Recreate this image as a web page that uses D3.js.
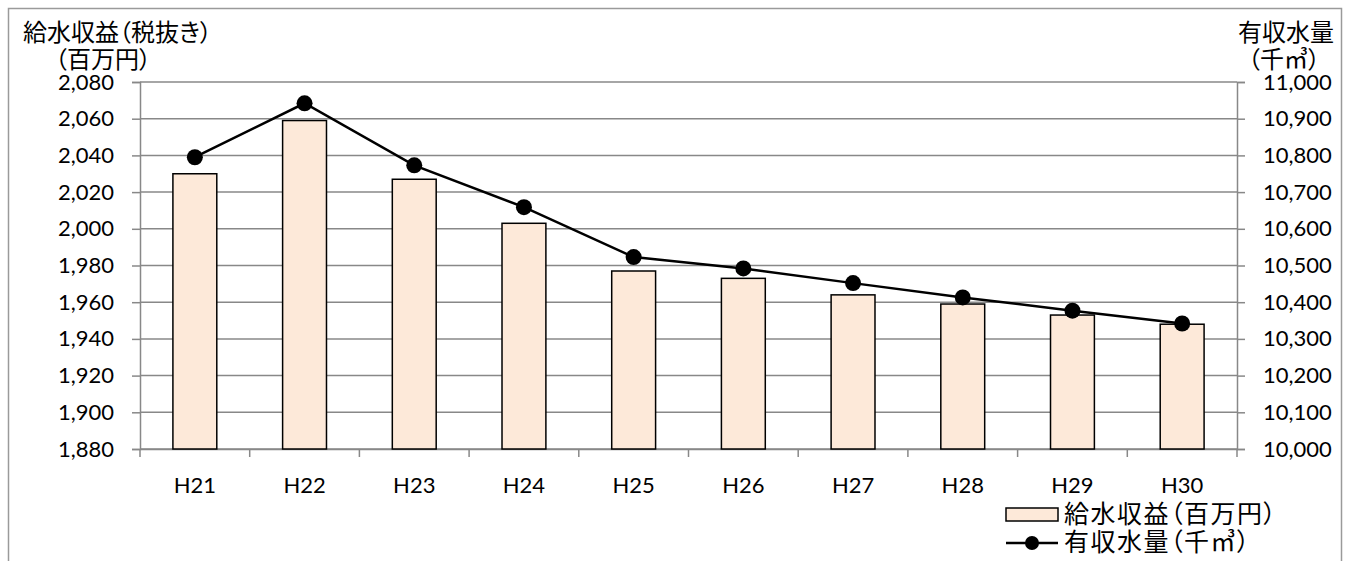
<!DOCTYPE html>
<html><head><meta charset="utf-8">
<script src="https://cdn.jsdelivr.net/npm/d3@7"></script>
<style>
html,body{margin:0;padding:0;background:#fff;overflow:hidden;}
svg{display:block;}
.jp{font-family:"Noto Sans CJK JP",sans-serif;font-feature-settings:"palt";}
.num{font-family:Lato,"Open Sans",sans-serif;}
</style></head>
<body>
<svg id="c" width="1346" height="561"></svg>
<script>
const categories = ["H21","H22","H23","H24","H25","H26","H27","H28","H29","H30"];
const revenue = [2030, 2059, 2027, 2003, 1977, 1973, 1964, 1959, 1953, 1948];
const volume = [10795, 10942, 10773, 10659, 10523, 10492, 10452, 10413, 10377, 10342];
const leftTicks = [1880,1900,1920,1940,1960,1980,2000,2020,2040,2060,2080];
const rightTicks = [10000,10100,10200,10300,10400,10500,10600,10700,10800,10900,11000];
const leftTitle = ["給水収益（税抜き）","（百万円）"];
const rightTitle = ["有収水量","（千㎥）"];
const legendLabels = ["給水収益（百万円）","有収水量（千㎥）"];

const svg = d3.select("#c");
const L = 140, R = 1237, T = 82, B = 449;
const grid = "#888888";

svg.append("rect").attr("x",8.5).attr("y",8.5).attr("width",1333).attr("height",600)
  .attr("fill","none").attr("stroke","#9a9a9a").attr("stroke-width",1.5);

const x = d3.scaleBand().domain(categories).range([L,R]).paddingInner(0.6).paddingOuter(0.3);
const xc = d3.scaleBand().domain(categories).range([L,R]);
const yL = d3.scaleLinear().domain([1880,2080]).range([B,T]);
const yR = d3.scaleLinear().domain([10000,11000]).range([B,T]);

// gridlines
svg.append("g").selectAll("line").data(leftTicks).join("line")
  .attr("x1",L).attr("x2",R).attr("y1",d=>yL(d)).attr("y2",d=>yL(d))
  .attr("stroke",grid).attr("stroke-width",1.5);

// left axis
const gl = svg.append("g").attr("transform",`translate(${L},0)`)
  .call(d3.axisLeft(yL).tickValues(leftTicks).tickSize(8).tickPadding(18).tickFormat(d3.format(",")));
gl.select(".domain").attr("stroke",grid).attr("stroke-width",1.5);
gl.selectAll(".tick line").attr("stroke",grid).attr("stroke-width",1.5);
gl.selectAll(".tick text").attr("class","num").attr("font-size",22).attr("fill","#000");

// right axis
const gr = svg.append("g").attr("transform",`translate(${R},0)`)
  .call(d3.axisRight(yR).tickValues(rightTicks).tickSize(8).tickPadding(18).tickFormat(d3.format(",")));
gr.select(".domain").attr("stroke",grid).attr("stroke-width",1.5);
gr.selectAll(".tick line").attr("stroke",grid).attr("stroke-width",1.5);
gr.selectAll(".tick text").attr("class","num").attr("font-size",22).attr("fill","#000");

// bottom axis
const gb = svg.append("g").attr("transform",`translate(0,${B})`)
  .call(d3.axisBottom(xc).tickSize(0).tickPadding(28));
gb.select(".domain").attr("stroke",grid).attr("stroke-width",1.5);
gb.selectAll(".tick text").attr("class","num").attr("font-size",22).attr("fill","#000");
const bounds = categories.map(c=>xc(c)).concat([xc(categories[categories.length-1])+xc.bandwidth()]);
svg.append("g").selectAll("line").data(bounds).join("line")
  .attr("x1",d=>d).attr("x2",d=>d).attr("y1",B).attr("y2",B+8)
  .attr("stroke",grid).attr("stroke-width",1.5);

// bars
svg.append("g").selectAll("rect").data(revenue).join("rect")
  .attr("x",(d,i)=>x(categories[i])).attr("width",x.bandwidth())
  .attr("y",d=>yL(d)).attr("height",d=>yL(1880)-yL(d))
  .attr("fill","#FDE9D9").attr("stroke","#000").attr("stroke-width",1.5);

// line
const cx = i => xc(categories[i]) + xc.bandwidth()/2;
svg.append("path").datum(volume)
  .attr("d", d3.line().x((d,i)=>cx(i)).y(d=>yR(d)))
  .attr("fill","none").attr("stroke","#000").attr("stroke-width",2.5);
svg.append("g").selectAll("circle").data(volume).join("circle")
  .attr("cx",(d,i)=>cx(i)).attr("cy",d=>yR(d)).attr("r",8).attr("fill","#000");

// titles
svg.append("text").attr("class","jp").attr("x",23).attr("y",41).attr("font-size",24).text(leftTitle[0]);
svg.append("text").attr("class","jp").attr("x",55).attr("y",68).attr("font-size",24).text(leftTitle[1]);
svg.append("text").attr("class","jp").attr("x",1334).attr("y",41).attr("font-size",24).attr("text-anchor","end").text(rightTitle[0]);
svg.append("text").attr("class","jp").attr("x",1320).attr("y",68).attr("font-size",24).attr("text-anchor","end").text(rightTitle[1]);

// legend
svg.append("rect").attr("x",1006).attr("y",508).attr("width",52).attr("height",13)
  .attr("fill","#FDE9D9").attr("stroke","#000").attr("stroke-width",1.5);
svg.append("line").attr("x1",1006).attr("x2",1058).attr("y1",543).attr("y2",543)
  .attr("stroke","#000").attr("stroke-width",2.5);
svg.append("circle").attr("cx",1032).attr("cy",543).attr("r",7).attr("fill","#000");
svg.append("text").attr("class","jp").attr("x",1064).attr("y",523).attr("font-size",25).attr("letter-spacing",1.5).text(legendLabels[0]);
svg.append("text").attr("class","jp").attr("x",1064).attr("y",551).attr("font-size",25).attr("letter-spacing",1.5).text(legendLabels[1]);
</script>
</body></html>
